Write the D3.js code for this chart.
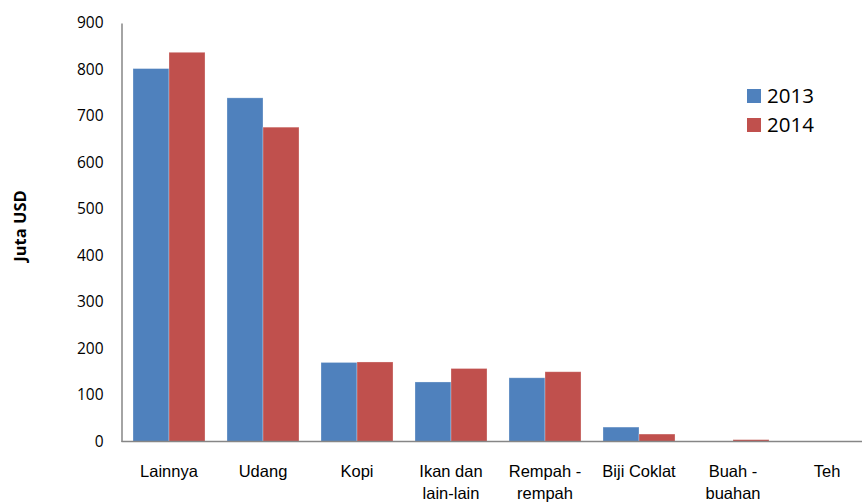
<!DOCTYPE html>
<html><head><meta charset="utf-8">
<script src="https://cdn.jsdelivr.net/npm/d3@7"></script>
<style>body{margin:0;background:#fff;}svg{display:block;font-family:"Open Sans","Noto Sans",sans-serif;}</style>
</head><body><svg id="c" width="862" height="502"></svg>
<script>
const categories = [["Lainnya"],["Udang"],["Kopi"],["Ikan dan","lain-lain"],["Rempah -","rempah"],["Biji Coklat"],["Buah -","buahan"],["Teh"]];
const series2013 = [802, 739, 170, 128, 137, 31, 1, 1];
const series2014 = [837, 676, 171, 157, 150, 16, 4, 1];
const seriesNames = ["2013","2014"];
const colors = ["#4F81BD","#C0504D"];
const yTicks = [0,100,200,300,400,500,600,700,800,900];

const svg = d3.select("#c");
const x0 = 122, x1 = 874, yTop = 23, yBot = 441.5;
const x = d3.scaleBand().domain(d3.range(categories.length)).range([x0, x1]).paddingInner(0.234).paddingOuter(0.117);
const xs = d3.scaleBand().domain([0,1]).range([0, x.bandwidth()]);
const y = d3.scaleLinear().domain([0, 900]).range([yBot, yTop]);

const data = [series2013, series2014];
categories.forEach((c, i) => {
  data.forEach((s, j) => {
    svg.append("rect")
      .attr("x", x(i) + xs(j))
      .attr("y", y(s[i]))
      .attr("width", xs.bandwidth())
      .attr("height", yBot - y(s[i]))
      .attr("fill", colors[j])
      .attr("stroke", "rgba(255,255,255,0.35)")
      .attr("stroke-width", 0.8);
  });
});

// y axis
const yAxis = d3.axisLeft(y).tickValues(yTicks).tickSize(0).tickPadding(18);
const gy = svg.append("g").attr("transform", `translate(${121.5},0)`).call(yAxis);
gy.select(".domain").attr("stroke", "#868686").attr("stroke-width", 1.5);
gy.selectAll("text").attr("font-size", 15.5).attr("fill", "#000").attr("font-family", "Open Sans");

// x axis
const gx = svg.append("g").attr("transform", `translate(0,${yBot})`).call(d3.axisBottom(x).tickSize(0).tickFormat(""));
gx.select(".domain").attr("stroke", "#868686").attr("stroke-width", 1.5).attr("d", `M121.5,0H874`);
gx.selectAll(".tick").each(function(d){
  const t = d3.select(this).select("text").text(null).attr("y", 35).attr("font-size", 16.5).attr("fill","#000").attr("dy", null);
  categories[d].forEach((line, k) => {
    t.append("tspan").attr("x", 0).attr("y", 35.5 + k * 21.5).text(line);
  });
});

// y title
svg.append("text").attr("transform", `translate(26,${226}) rotate(-90)`)
  .attr("text-anchor", "middle").attr("font-weight", "bold").attr("font-size", 16.5).text("Juta USD");

// legend
seriesNames.forEach((n, j) => {
  const ly = 89 + j * 29;
  svg.append("rect").attr("x", 747).attr("y", ly).attr("width", 14).attr("height", 14).attr("fill", colors[j]);
  svg.append("text").attr("x", 767).attr("y", ly + 14).attr("font-size", 20.5).text(n);
});
</script></body></html>
